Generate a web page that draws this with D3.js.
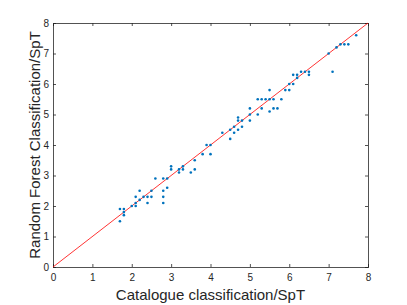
<!DOCTYPE html>
<html>
<head>
<meta charset="utf-8">
<script src="https://cdn.jsdelivr.net/npm/d3@7"></script>
<style>
  body { margin: 0; background: #fff; }
  svg { display: block; font-family: "Liberation Sans", Arial, sans-serif; }
</style>
</head>
<body>
<div id="chart"></div>
<script>
// catalogue SpT vs random forest SpT
var catalogue = [1.7,1.7,1.8,1.8,1.8,2.0,2.1,2.1,2.1,2.2,2.2,2.3,2.4,2.4,2.5,2.5,2.6,2.8,2.8,2.8,2.8,2.9,2.9,3.0,3.0,3.2,3.2,3.3,3.3,3.5,3.6,3.6,3.8,3.9,4.0,4.0,4.3,4.5,4.5,4.6,4.6,4.7,4.7,4.7,4.8,4.8,5.0,5.0,5.0,5.2,5.2,5.3,5.3,5.4,5.5,5.5,5.5,5.6,5.6,5.7,5.8,5.9,6.0,6.0,6.1,6.1,6.2,6.2,6.3,6.4,6.5,6.5,7.0,7.1,7.2,7.3,7.4,7.5,7.7];
var forest    = [1.9,1.5,1.9,1.8,1.7,2.0,2.1,2.0,2.3,2.2,2.5,2.3,2.3,2.1,2.3,2.5,2.9,2.9,2.5,2.3,2.1,2.9,2.6,3.3,3.2,3.2,3.1,3.3,3.2,3.1,3.5,3.2,3.7,4.0,4.0,3.7,4.4,4.5,4.2,4.6,4.4,4.9,4.8,4.5,4.8,4.6,5.2,5.0,4.8,5.5,5.0,5.5,5.2,5.5,5.8,5.5,5.1,5.5,5.2,5.2,5.5,5.8,6.0,5.8,6.3,6.0,6.3,6.2,6.4,6.4,6.4,6.3,7.0,6.4,7.2,7.3,7.3,7.3,7.6];
var ticks = [0,1,2,3,4,5,6,7,8];
var lineEnds = [0, 8];

var W = 407, H = 305;
var margin = {top: 23, right: 39, bottom: 38, left: 53},
    width = W - margin.left - margin.right,
    height = H - margin.top - margin.bottom;

var svg = d3.select("#chart")
  .append("svg")
    .attr("width", W)
    .attr("height", H)
  .append("g")
    .attr("transform", "translate(" + margin.left + "," + margin.top + ")");

var x = d3.scaleLinear().domain([0, 8]).range([0, width]);
var y = d3.scaleLinear().domain([0, 8]).range([height, 0]);

var axisColor = "#262626";

// bottom / left axes with inward ticks
var gx = svg.append("g")
    .attr("transform", "translate(0," + height + ")")
    .call(d3.axisBottom(x).tickValues(ticks).tickSize(-3).tickPadding(7).tickFormat(d3.format("d")));
var gy = svg.append("g")
    .call(d3.axisLeft(y).tickValues(ticks).tickSize(-3).tickPadding(4).tickFormat(d3.format("d")));
// top / right just ticks
var gt = svg.append("g")
    .call(d3.axisTop(x).tickValues(ticks).tickSize(-3).tickFormat(""));
var gr = svg.append("g")
    .attr("transform", "translate(" + width + ",0)")
    .call(d3.axisRight(y).tickValues(ticks).tickSize(-3).tickFormat(""));

[gx, gy, gt, gr].forEach(function(g) {
  g.select(".domain").attr("stroke", axisColor).attr("stroke-width", 0.8);
  g.selectAll(".tick line").attr("stroke", axisColor).attr("stroke-width", 0.8);
  g.selectAll(".tick text").attr("fill", axisColor).style("font-size", "10px");
});

// y = x reference line
svg.append("line")
    .attr("x1", x(lineEnds[0])).attr("y1", y(lineEnds[0]))
    .attr("x2", x(lineEnds[1])).attr("y2", y(lineEnds[1]))
    .attr("stroke", "#ff0000")
    .attr("stroke-width", 0.8);

svg.append("g")
  .selectAll("circle")
  .data(catalogue)
  .enter()
  .append("circle")
    .attr("cx", function(d) { return x(d); })
    .attr("cy", function(d, i) { return y(forest[i]); })
    .attr("r", 1.3)
    .attr("fill", "#0072bd");

svg.append("text")
    .attr("x", width / 2)
    .attr("y", height + 33)
    .attr("text-anchor", "middle")
    .attr("fill", axisColor)
    .style("font-size", "15px")
    .text("Catalogue classification/SpT");

svg.append("text")
    .attr("transform", "rotate(-90)")
    .attr("x", -height / 2)
    .attr("y", -13)
    .attr("text-anchor", "middle")
    .attr("fill", axisColor)
    .style("font-size", "15px")
    .text("Random Forest Classification/SpT");
</script>
</body>
</html>
